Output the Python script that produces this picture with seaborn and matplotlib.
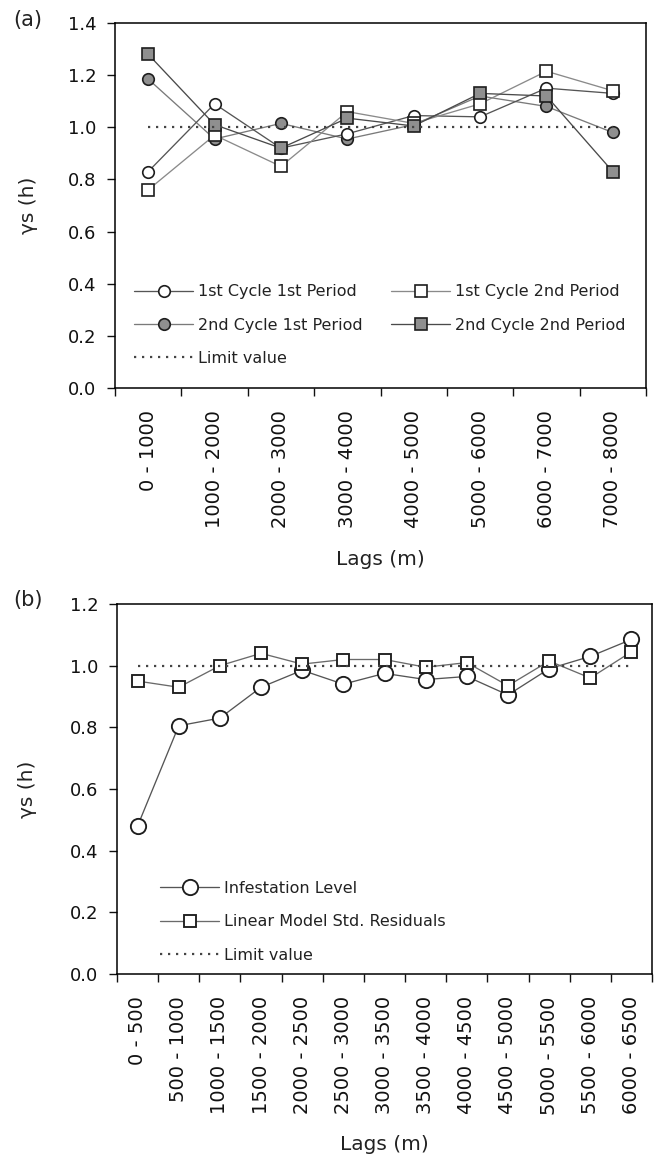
import numpy as np
import pandas as pd
import matplotlib
matplotlib.use("Agg")
import matplotlib.pyplot as plt
import seaborn as sns

# ---------------- data ----------------
lags_a = ["0 - 1000", "1000 - 2000", "2000 - 3000", "3000 - 4000",
          "4000 - 5000", "5000 - 6000", "6000 - 7000", "7000 - 8000"]
c1_p1 = [0.83, 1.09, 0.92, 0.975, 1.045, 1.04, 1.15, 1.13]
c1_p2 = [0.76, 0.97, 0.85, 1.06, 1.015, 1.09, 1.215, 1.14]
c2_p1 = [1.185, 0.955, 1.015, 0.955, 1.01, 1.12, 1.08, 0.98]
c2_p2 = [1.28, 1.01, 0.92, 1.035, 1.005, 1.13, 1.12, 0.83]

lags_b = ["0 - 500", "500 - 1000", "1000 - 1500", "1500 - 2000", "2000 - 2500",
          "2500 - 3000", "3000 - 3500", "3500 - 4000", "4000 - 4500",
          "4500 - 5000", "5000 - 5500", "5500 - 6000", "6000 - 6500"]
infestation = [0.48, 0.805, 0.83, 0.93, 0.985, 0.94, 0.975, 0.955, 0.965,
               0.905, 0.99, 1.03, 1.085]
residuals = [0.95, 0.93, 1.0, 1.04, 1.005, 1.02, 1.02, 0.995, 1.01,
             0.935, 1.015, 0.96, 1.045]
LIMIT = 1.0

yticks_a = [0.0, 0.2, 0.4, 0.6, 0.8, 1.0, 1.2, 1.4]
yticks_b = [0.0, 0.2, 0.4, 0.6, 0.8, 1.0, 1.2]

# ---------------- style ----------------
sns.set_style("ticks")
plt.rcParams['font.family'] = ['DejaVu Sans']
plt.rcParams['text.color'] = '#222222'
plt.rcParams['axes.labelcolor'] = '#222222'
plt.rcParams['xtick.color'] = '#111111'
plt.rcParams['ytick.color'] = '#111111'

W, H = 654, 1164
fig = plt.figure(figsize=(W / 100, H / 100), dpi=100)
ax_a = fig.add_axes([115 / W, 1 - 388 / H, 531 / W, 365 / H])
ax_b = fig.add_axes([117 / W, 1 - 974 / H, 535 / W, 370 / H])

EDGE = '#1e1e1e'
GREY = '#8f8f8f'
limit_style = dict(color='#444444', lw=1.6, linestyle=(0, (1, 2.6)))


def series(ax, x, y, label, lc, marker, face, ms, mew=1.2, lw=0.95):
    sns.lineplot(x=x, y=y, ax=ax, color=lc, lw=lw, marker=marker,
                 markersize=ms, markerfacecolor=face, markeredgecolor=EDGE,
                 markeredgewidth=mew, errorbar=None, legend=False,
                 label=label, sort=False)


def style_axes(ax, labels, yticks, ylim):
    n = len(labels)
    pos = np.arange(n)
    ax.set_xlim(-0.5, n - 0.5)
    ax.set_ylim(*ylim)
    ax.set_xticks(pos)
    ax.set_xticklabels(labels, rotation=90, fontsize=14)
    ax.set_xticks(np.arange(n + 1) - 0.5, minor=True)
    ax.tick_params(axis='x', which='major', length=0, pad=16)
    ax.tick_params(axis='x', which='minor', length=5.5, width=1.0,
                   direction='out', bottom=True)
    ax.set_yticks(yticks)
    ax.set_yticklabels([f"{v:.1f}" for v in yticks], fontsize=13)
    ax.tick_params(axis='y', length=5.5, width=1.0, pad=8, direction='out',
                   left=True)
    for s in ax.spines.values():
        s.set_visible(True)
        s.set_linewidth(1.1)
        s.set_color('black')


# ---------------- panel (a) ----------------
pos_a = np.arange(len(lags_a))
series(ax_a, pos_a, c2_p1, "2nd Cycle 1st Period", '#7a7a7a', 'o', GREY, 8.3)
series(ax_a, pos_a, c1_p1, "1st Cycle 1st Period", '#555555', 'o', 'white', 8.3)
series(ax_a, pos_a, c1_p2, "1st Cycle 2nd Period", '#8a8a8a', 's', 'white', 8.3)
series(ax_a, pos_a, c2_p2, "2nd Cycle 2nd Period", '#4a4a4a', 's', GREY, 8.3)
sns.lineplot(x=pos_a, y=[LIMIT] * len(lags_a), ax=ax_a, errorbar=None,
             legend=False, label="Limit value", **limit_style)
style_axes(ax_a, lags_a, yticks_a, (0, 1.4))

hd = {l.get_label(): l for l in ax_a.get_lines()}
leg_kw = dict(loc='upper left', frameon=False, borderpad=0, borderaxespad=0,
              handlelength=3.7, handletextpad=0.3, labelspacing=1.15,
              fontsize=11.5)
leg1 = ax_a.legend(handles=[hd["1st Cycle 1st Period"], hd["2nd Cycle 1st Period"],
                            hd["Limit value"]],
                   bbox_to_anchor=(0.0358, 0.284), **leg_kw)
ax_a.add_artist(leg1)
ax_a.legend(handles=[hd["1st Cycle 2nd Period"], hd["2nd Cycle 2nd Period"]],
            bbox_to_anchor=(0.52, 0.284), **leg_kw)

ax_a.set_xlabel("Lags (m)", fontsize=14.5)
ax_a.xaxis.label.set_va('center')
ax_a.xaxis.set_label_coords(0.5, -(560 - 388) / 365)
ax_a.set_ylabel("γs (h)", fontsize=14.5)
ax_a.yaxis.label.set_va('center')
ax_a.yaxis.set_label_coords((28 - 115) / 531, 0.5)

# ---------------- panel (b) ----------------
pos_b = np.arange(len(lags_b))
series(ax_b, pos_b, infestation, "Infestation Level", '#555555', 'o', 'white',
       11, mew=1.35)
series(ax_b, pos_b, residuals, "Linear Model Std. Residuals", '#6a6a6a', 's',
       'white', 9, mew=1.35)
sns.lineplot(x=pos_b, y=[LIMIT] * len(lags_b), ax=ax_b, errorbar=None,
             legend=False, label="Limit value", **limit_style)
style_axes(ax_b, lags_b, yticks_b, (0, 1.2))

hb = {l.get_label(): l for l in ax_b.get_lines()}
ax_b.legend(handles=[hb["Infestation Level"], hb["Linear Model Std. Residuals"],
                     hb["Limit value"]],
            bbox_to_anchor=((160 - 117) / 535, 0.2515), **leg_kw)

ax_b.set_xlabel("Lags (m)", fontsize=14.5)
ax_b.xaxis.label.set_va('center')
ax_b.xaxis.set_label_coords(0.5, -(1145 - 974) / 370)
ax_b.set_ylabel("γs (h)", fontsize=14.5)
ax_b.yaxis.label.set_va('center')
ax_b.yaxis.set_label_coords((28 - 117) / 535, 0.5)

fig.text(13 / W, 1 - 20 / H, "(a)", ha='left', va='center', fontsize=15)
fig.text(13 / W, 1 - 600 / H, "(b)", ha='left', va='center', fontsize=15)

fig.savefig("out.png", dpi=100, facecolor='white')
